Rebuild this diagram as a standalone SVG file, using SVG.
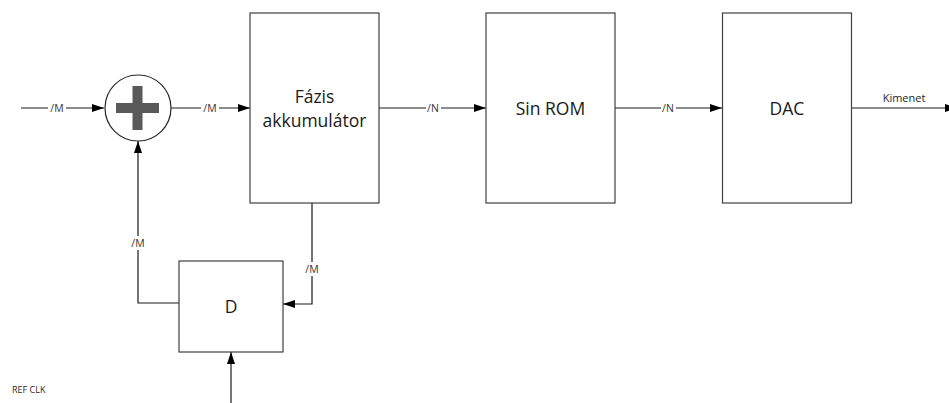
<svg xmlns="http://www.w3.org/2000/svg" width="949" height="403" viewBox="0 0 949 403">
  <style>
    .box { fill: #ffffff; stroke: #404040; stroke-width: 1.2; }
    .wire { fill: none; stroke: #1a1a1a; stroke-width: 1.2; }
    .title { font-family: "Open Sans", "Liberation Sans", sans-serif; font-size: 17.5px; fill: #1a1a1a; text-anchor: middle; }
    .gap { fill: #ffffff; }
    .bus { font-family: "Open Sans", "Liberation Sans", sans-serif; font-size: 10.5px; fill: #333333; text-anchor: middle; }
    .note { font-family: "Open Sans", "Liberation Sans", sans-serif; fill: #262626; }
  </style>
  <defs>
    <marker id="arrow" viewBox="0 0 12 8" refX="12" refY="4" markerWidth="12" markerHeight="8" markerUnits="userSpaceOnUse" orient="auto">
      <path d="M0,0 L12,4 L0,8 Z" fill="#000000"/>
    </marker>
  </defs>
  <rect width="949" height="403" fill="#ffffff"/>

  <!-- signal paths -->
  <g id="connectors">
    <line class="wire" x1="21" y1="108" x2="104" y2="108" marker-end="url(#arrow)"/>
    <line class="wire" x1="171" y1="108" x2="250" y2="108" marker-end="url(#arrow)"/>
    <line class="wire" x1="379" y1="108" x2="486" y2="108" marker-end="url(#arrow)"/>
    <line class="wire" x1="615" y1="108" x2="722" y2="108" marker-end="url(#arrow)"/>
    <line class="wire" x1="852" y1="108" x2="957" y2="108" marker-end="url(#arrow)"/>
    <polyline class="wire" points="312,203 312,304 283,304" marker-end="url(#arrow)"/>
    <polyline class="wire" points="179,303 138,303 138,141" marker-end="url(#arrow)"/>
    <line class="wire" x1="231" y1="403" x2="231" y2="352" marker-end="url(#arrow)"/>

    <!-- bus width labels, each on a small white break in its wire -->
    <rect class="gap" x="48" y="102" width="18" height="12"/>
    <text class="bus" x="57" y="112">/M</text>
    <rect class="gap" x="201" y="102" width="18" height="12"/>
    <text class="bus" x="210" y="112">/M</text>
    <rect class="gap" x="426" y="102" width="15" height="12"/>
    <text class="bus" x="433" y="112">/N</text>
    <rect class="gap" x="661" y="102" width="15" height="12"/>
    <text class="bus" x="668" y="112">/N</text>
    <rect class="gap" x="129" y="236" width="18" height="14"/>
    <text class="bus" x="138" y="247">/M</text>
    <rect class="gap" x="303" y="262" width="18" height="14"/>
    <text class="bus" x="312" y="273">/M</text>
    <text class="note" x="904" y="102" font-size="11" text-anchor="middle">Kimenet</text>
  </g>

  <!-- summing junction -->
  <g id="adder">
    <circle cx="138" cy="108" r="33" fill="#ffffff" stroke="#262626" stroke-width="1.2"/>
    <rect x="116" y="103" width="43" height="10" fill="#595959"/>
    <rect x="132.5" y="86" width="10" height="44" fill="#595959"/>
  </g>

  <g id="phase-accumulator">
    <rect class="box" x="250" y="13" width="129" height="190"/>
    <text class="title" x="314.5" y="103">Fázis</text>
    <text class="title" x="314.5" y="127">akkumulátor</text>
  </g>

  <g id="sin-rom">
    <rect class="box" x="486" y="13" width="129" height="190"/>
    <text class="title" x="550.5" y="115">Sin ROM</text>
  </g>

  <g id="dac">
    <rect class="box" x="722.5" y="13" width="129" height="190"/>
    <text class="title" x="787" y="115">DAC</text>
  </g>

  <g id="delay">
    <rect class="box" x="179" y="261" width="104" height="91"/>
    <text class="title" x="231" y="313">D</text>
  </g>

  <g id="ref-clk">
    <text class="note" x="12" y="393" font-size="9">REF CLK</text>
  </g>
</svg>
